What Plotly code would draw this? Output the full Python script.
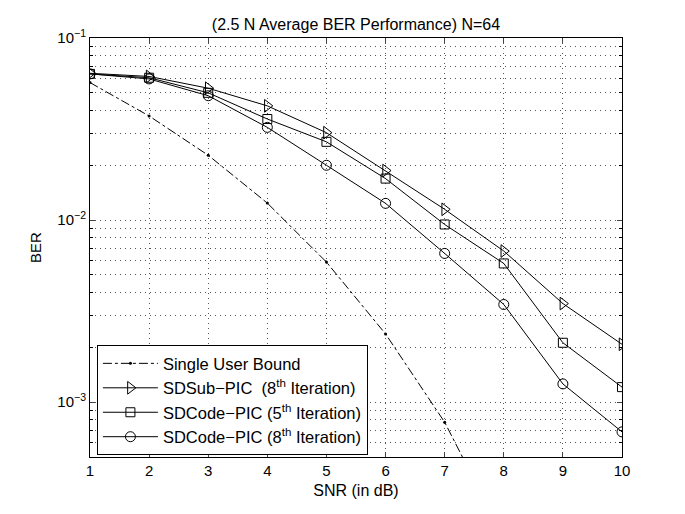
import plotly.graph_objects as go

snr = [1, 2, 3, 4, 5, 6, 7, 8, 9, 10]
snr_bound = [1, 2, 3, 4, 5, 6, 7, 8]
single_user_bound = [0.0569, 0.0373, 0.0227, 0.0124, 0.00588, 0.00237, 0.000776, 0.000180]
sdsub_pic_8 = [0.064, 0.0615, 0.053, 0.0424, 0.0302, 0.0187, 0.01146, 0.00676, 0.00348, 0.00208]
sdcode_pic_5 = [0.0635, 0.0605, 0.050, 0.0359, 0.0269, 0.0169, 0.00946, 0.00578, 0.00212, 0.00121]
sdcode_pic_8 = [0.0635, 0.0596, 0.0482, 0.0323, 0.0200, 0.01236, 0.00656, 0.00344, 0.00126, 0.000687]

x_ticks = [1, 2, 3, 4, 5, 6, 7, 8, 9, 10]
y_ticks = [1e-3, 1e-2, 1e-1]
y_tick_text = ["10<sup>−3</sup>", "10<sup>−2</sup>", "10<sup>−1</sup>"]
y_minor_ticks = [6e-4, 7e-4, 8e-4, 9e-4,
                 2e-3, 3e-3, 4e-3, 5e-3, 6e-3, 7e-3, 8e-3, 9e-3,
                 2e-2, 3e-2, 4e-2, 5e-2, 6e-2, 7e-2, 8e-2, 9e-2]

FONT = "Liberation Sans, Arial, sans-serif"
GRID = "#555555"
GRID_DASH = "1px,4px"

fig = go.Figure()
fig.add_trace(go.Scatter(
    x=snr_bound, y=single_user_bound, name="Single User Bound",
    mode="lines+markers",
    line=dict(color="black", width=1, dash="dashdot"),
    marker=dict(symbol="circle", size=3, color="black"),
))
fig.add_trace(go.Scatter(
    x=snr, y=sdsub_pic_8, name="SDSub−PIC  (8<sup>th</sup> Iteration)",
    mode="lines+markers",
    line=dict(color="black", width=1),
    marker=dict(symbol="triangle-right-open", size=11, color="black", line=dict(width=1)),
))
fig.add_trace(go.Scatter(
    x=snr, y=sdcode_pic_5, name="SDCode−PIC (5<sup>th</sup> Iteration)",
    mode="lines+markers",
    line=dict(color="black", width=1),
    marker=dict(symbol="square-open", size=9, color="black", line=dict(width=1)),
))
fig.add_trace(go.Scatter(
    x=snr, y=sdcode_pic_8, name="SDCode−PIC (8<sup>th</sup> Iteration)",
    mode="lines+markers",
    line=dict(color="black", width=1),
    marker=dict(symbol="circle-open", size=10, color="black", line=dict(width=1)),
))

fig.update_layout(
    width=685, height=514,
    margin=dict(l=82, r=71, t=30, b=65),
    paper_bgcolor="white", plot_bgcolor="white",
    font=dict(family=FONT, size=15, color="black"),
    title=dict(text="(2.5 N Average BER Performance) N=64", x=0.5, xanchor="center",
               xref="paper", y=0.968, yanchor="middle", font=dict(size=16)),
    legend=dict(x=0.013, y=0.267, xanchor="left", yanchor="top",
                bgcolor="white", bordercolor="black", borderwidth=1,
                font=dict(size=16.5), tracegroupgap=0, itemwidth=55),
    showlegend=True,
)
fig.update_xaxes(
    range=[1, 10], tickvals=x_ticks, ticks="inside", ticklen=5,
    showline=True, linecolor="black", linewidth=1, mirror="ticks",
    showgrid=True, gridcolor=GRID, griddash=GRID_DASH, gridwidth=1,
    zeroline=False,
    title=dict(text="SNR (in dB)", standoff=6, font=dict(size=16)),
    tickfont=dict(size=15),
)
fig.update_yaxes(
    type="log", range=[-3.30103, -1], tickvals=y_ticks, ticktext=y_tick_text,
    ticks="inside", ticklen=5,
    showline=True, linecolor="black", linewidth=1, mirror="ticks",
    showgrid=True, gridcolor=GRID, griddash=GRID_DASH, gridwidth=1,
    minor=dict(tickvals=y_minor_ticks, ticks="inside", ticklen=3, showgrid=True,
               gridcolor=GRID, griddash=GRID_DASH, gridwidth=1, tickcolor="black"),
    zeroline=False,
    title=dict(text="BER", standoff=12, font=dict(size=15)),
    tickfont=dict(size=15),
)

fig.write_html("out.html")
